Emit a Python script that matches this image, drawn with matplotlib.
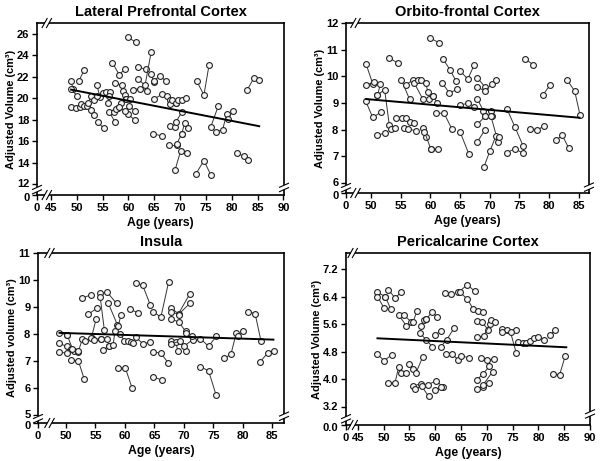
import matplotlib
matplotlib.use("Agg")
import matplotlib.pyplot as plt
from matplotlib.lines import Line2D
from matplotlib.patches import Rectangle
from matplotlib.transforms import ScaledTranslation

plt.rcParams['font.family'] = ['Liberation Sans', 'DejaVu Sans']
plt.rcParams['font.weight'] = 'bold'

# ---------------- data: Lateral Prefrontal Cortex ----------------
lpfc_age = [[48.8, 49.3], [48.8, 50.1], [50.4, 51.4], [48.8, 49.9], [50.6, 50.9, 51.4],
            [51.9, 52.2, 52.8], [52.8, 53.3], [54.1, 55.2], [53.9, 54.5], [53.3, 54.0],
            [55.1, 55.6, 56.4], [56.0, 56.3], [56.3, 57.4], [56.9, 58.2, 59.3], [57.4, 58.7],
            [58.9, 59.3, 59.6], [57.2, 58.0], [57.6, 58.5], [59.6, 60.3], [59.9, 61.2],
            [60.2, 61.2], [58.2, 59.3], [59.9, 61.4], [60.9, 62.2, 63.6], [61.8, 63.3],
            [61.8, 63.2, 64.4], [64.4, 64.9], [64.9, 66.1, 67.2], [64.9, 66.4, 67.5],
            [64.8, 66.4], [68.0, 69.2], [68.0, 68.5], [69.2, 69.6], [70.3, 71.1], [68.0, 69.0],
            [69.2, 70.3], [70.3, 70.9, 71.6], [67.9, 69.3], [69.3, 70.3], [69.0, 70.1, 71.4],
            [73.1, 74.6, 75.9], [73.2, 74.6, 75.6], [75.9, 77.4], [76.9, 78.2, 79.0],
            [79.3, 80.2], [81.0, 82.3, 83.2], [83.0, 84.3, 85.3]]
lpfc_vol = [[21.65, 20.9], [20.9, 20.2], [21.6, 22.6], [19.2, 19.1], [19.2, 19.5, 19.3],
            [19.3, 19.6, 20.2], [18.9, 18.45], [17.8, 17.2], [21.2, 20.1], [19.85, 20.2],
            [20.5, 20.6, 20.6], [19.6, 20.2], [18.7, 17.8], [23.3, 22.2, 22.7], [21.4, 21.2],
            [20.7, 20.3, 19.9], [18.7, 19.1], [19.0, 19.6], [19.9, 19.9], [18.5, 18.0],
            [19.3, 18.8], [19.2, 18.8], [25.7, 25.2], [20.8, 20.9, 20.7], [22.9, 22.7],
            [21.8, 21.2, 24.3], [22.3, 21.5], [21.6, 22.1, 21.6], [19.9, 20.35, 20.25],
            [16.7, 16.5], [19.85, 19.6], [19.5, 19.8], [19.6, 19.85], [19.85, 20.05], [17.4, 17.35],
            [17.8, 18.7], [16.7, 17.7, 17.2], [15.65, 15.65], [15.7, 16.7], [13.3, 15.1, 14.9],
            [13.0, 14.2, 12.9], [21.6, 20.3, 23.1], [17.3, 19.3], [16.9, 17.05, 18.5],
            [18.05, 18.85], [14.9, 14.6, 14.3], [20.8, 21.9, 21.7]]
lpfc_fit_x = [48.9, 85.3]
lpfc_fit_y = [20.8, 17.4]

# ---------------- data: Orbito-frontal Cortex ----------------
ofc_age = [[49.2, 50.3], [49.2, 50.5], [51.1, 52.3, 53.1], [51.1, 51.6], [49.1, 50.3, 51.7],
           [53.0, 54.5], [51.1, 52.3], [53.4, 54.1], [54.2, 55.3], [55.9, 56.5, 57.3],
           [58.7, 59.3], [59.0, 60.1], [60.1, 61.3], [55.6, 56.2, 57.6], [55.1, 56.5],
           [55.9, 57.0], [57.3, 58.7], [58.0, 58.4], [59.2, 59.6], [59.8, 60.4], [60.4, 61.2],
           [60.9, 62.3, 63.6], [59.9, 61.5], [62.1, 63.3, 64.3], [65.0, 66.3, 67.4],
           [62.0, 63.2, 64.5], [65.0, 66.5], [67.9, 69.2], [67.9, 69.2, 70.4, 71.0],
           [65.0, 66.4, 67.4], [67.9, 68.9, 70.2], [69.2, 70.3], [67.9, 69.2], [67.9, 69.2],
           [70.2, 71.4], [69.0, 70.0, 71.0, 71.6], [72.9, 74.2, 75.6], [72.9, 74.2, 75.6],
           [76.8, 78.0, 79.1], [75.9, 77.3], [78.9, 80.2], [81.1, 82.2, 83.3], [83.0, 84.3, 85.2]]
ofc_vol = [[10.45, 9.72], [9.68, 9.78], [9.31, 9.5, 8.16], [9.31, 9.70], [9.08, 8.46, 8.66],
           [10.7, 10.5], [7.79, 7.88], [8.04, 8.07], [8.45, 8.45], [8.45, 8.28, 8.24],
           [8.06, 7.72], [7.92, 7.27], [7.27, 7.27], [8.07, 8.04, 7.95], [9.88, 9.14],
           [9.69, 9.85], [9.75, 9.16], [9.85, 9.85], [9.75, 9.41], [9.16, 9.25], [9.25, 9.02],
           [8.62, 8.62, 8.04], [11.45, 11.25], [10.66, 10.25, 9.83], [10.2, 9.9, 10.44],
           [9.75, 9.38, 9.51], [7.92, 7.08], [9.95, 9.6], [9.6, 9.45, 9.73, 9.85],
           [8.92, 9.0, 8.87], [9.16, 8.72, 8.72], [8.5, 8.5], [8.2, 8.5], [7.54, 8.0],
           [8.5, 7.54], [6.6, 7.19, 7.75, 7.72], [8.78, 8.12, 7.4], [7.14, 7.29, 7.12],
           [8.04, 8.0, 8.13], [10.66, 10.44], [9.29, 9.69], [7.6, 7.79, 7.31], [9.88, 9.44, 8.54]]
ofc_fit_x = [49.2, 85.1]
ofc_fit_y = [9.15, 8.45]

# ---------------- data: Insula ----------------
ins_age = [[48.8, 50.1], [48.8, 50.1, 50.8], [50.2, 51.3], [51.0, 52.1], [48.8, 50.1],
           [50.8, 52.1, 53.1], [52.1, 52.8], [53.2, 54.4], [52.8, 54.2], [53.8, 55.2],
           [54.3, 55.1], [54.8, 55.9], [55.8, 57.0, 58.6], [55.8, 56.5], [57.2, 58.7],
           [56.2, 57.3], [55.9, 56.9], [57.3, 58.0, 58.3], [58.9, 59.3], [59.2, 59.9, 60.5],
           [61.0, 61.4], [58.9, 60.1, 61.2], [60.9, 62.2], [61.8, 63.0, 64.3], [61.8, 63.1, 64.3],
           [64.8, 66.1, 67.4], [64.8, 66.1, 67.3], [64.8, 66.3], [67.9, 69.1, 71.0],
           [67.9, 69.1, 71.0], [67.9, 69.1, 70.3], [67.9, 68.6, 69.0], [67.9, 69.4, 70.4],
           [70.0, 71.5], [70.4, 71.4], [72.8, 74.2, 75.5], [72.8, 74.2, 75.5],
           [76.9, 78.0, 78.9], [79.2, 80.1], [80.9, 82.1, 83.1], [82.9, 84.2, 85.3]]
ins_vol = [[8.04, 7.97], [7.66, 7.54, 7.46], [7.95, 7.35], [7.45, 7.33], [7.33, 7.29],
           [7.04, 7.0, 6.33], [7.35, 7.83], [7.73, 7.85], [9.33, 9.45], [8.73, 8.95],
           [7.85, 8.54], [7.79, 7.83], [9.5, 9.54, 9.13], [9.38, 8.16], [9.13, 8.35],
           [7.41, 7.54], [7.83, 7.83], [7.54, 7.58, 8.1], [8.29, 8.7], [8.0, 7.75, 7.75],
           [7.7, 7.66], [6.75, 6.72, 6.01], [8.91, 8.79], [9.88, 9.81, 9.08], [7.88, 7.63, 7.7],
           [8.83, 8.62, 9.91], [7.33, 7.29, 6.94], [6.41, 6.29], [8.95, 8.75, 9.48],
           [8.83, 8.72, 9.13], [8.54, 8.45, 8.1], [7.75, 7.7, 7.38], [7.62, 7.75, 7.38],
           [7.54, 7.79], [8.04, 7.91], [7.83, 7.54, 7.91], [6.79, 6.63, 5.72],
           [7.1, 7.25, 8.04], [7.91, 8.1], [8.83, 8.75, 7.73], [6.95, 7.29, 7.35]]
ins_fit_x = [48.9, 85.2]
ins_fit_y = [8.04, 7.79]

# ---------------- data: Pericalcarine Cortex ----------------
peri_age = [[48.8, 50.3], [48.8, 50.1], [50.3, 51.4], [50.9, 52.2, 53.4], [52.9, 54.4],
            [53.9, 55.3], [55.7, 56.5], [57.3, 57.8, 58.3], [58.3, 59.3, 60.4],
            [57.0, 58.3, 59.4], [59.9, 61.2], [61.1, 62.2, 63.7], [48.8, 50.1, 51.6],
            [50.9, 52.2, 52.9], [53.3, 54.4], [55.0, 55.7], [56.3, 57.6], [55.7, 57.2],
            [56.0, 57.4, 58.7], [58.6, 60.2, 61.5], [59.9, 61.2], [61.9, 63.0],
            [64.5, 66.2, 67.7], [64.8, 66.2, 67.4], [68.2, 69.3], [68.0, 69.1, 70.3],
            [68.0, 69.4, 70.6], [70.9, 71.6], [62.0, 63.3, 64.5], [65.0, 66.5],
            [68.8, 70.1, 71.4], [68.0, 69.2, 70.5], [68.0, 69.2, 70.5], [69.3, 71.1],
            [72.9, 74.0, 75.7], [72.9, 74.6, 75.7], [76.0, 77.0], [77.6, 78.3],
            [79.1, 80.0, 81.1], [82.2, 83.3], [82.8, 84.1, 85.2]]
peri_vol = [[6.52, 6.40], [6.40, 6.06], [6.40, 6.03], [6.60, 6.36, 6.52], [5.87, 5.55],
            [5.87, 5.67], [5.67, 5.99], [5.55, 5.71, 5.75], [5.75, 5.94, 5.82],
            [5.34, 5.14, 4.95], [5.29, 5.41], [4.95, 5.14, 5.50], [4.73, 4.54, 4.72],
            [3.90, 3.90, 4.35], [4.20, 4.20], [4.46, 4.30], [4.20, 4.66], [3.80, 3.88],
            [3.73, 3.80, 3.51], [3.85, 3.96, 3.78], [3.69, 3.78], [6.50, 6.47],
            [6.52, 6.74, 6.55], [6.52, 6.33, 6.03], [5.97, 5.94], [5.68, 5.65, 5.43],
            [5.22, 5.26, 5.60], [5.71, 5.65], [4.75, 4.73, 4.56], [4.68, 4.63],
            [4.61, 4.56, 4.58], [3.98, 4.15, 4.38], [3.73, 3.78, 3.90], [3.85, 4.22],
            [5.45, 5.43, 5.43], [5.36, 5.36, 4.77], [5.09, 5.06], [5.06, 5.12],
            [5.21, 5.22, 5.14], [5.29, 5.43], [4.17, 4.13, 4.68]]
peri_fit_x = [48.8, 85.4]
peri_fit_y = [5.19, 4.93]

titles = ["Lateral Prefrontal Cortex", "Orbito-frontal Cortex", "Insula", "Pericalcarine Cortex"]
ylabels = ["Adjusted Volume (cm³)", "Adjusted Volume (cm³)", "Adjusted volume (cm³)",
           "Adjusted Volume (cm³)"]

W, H = 600, 461
fig = plt.figure(figsize=(W / 100, H / 100), dpi=100)


def px_axes(l, r, t, b):
    return [l / W, (H - b) / H, (r - l) / W, (b - t) / H]


panels = [
    dict(rect=px_axes(37, 284, 23, 195), age=lpfc_age, vol=lpfc_vol, fx=lpfc_fit_x, fy=lpfc_fit_y,
         xlim=(42.3, 90.1), xt=[45, 50, 55, 60, 65, 70, 75, 80, 85, 90],
         ylim=(11.0, 27.0), yt=[12, 14, 16, 18, 20, 22, 24, 26], yfmt="{:.0f}", yzero="0",
         xbrk=44.2, ybrk=11.5, rbrk=11.7),
    dict(rect=px_axes(346, 589, 23, 193), age=ofc_age, vol=ofc_vol, fx=ofc_fit_x, fy=ofc_fit_y,
         xlim=(45.8, 86.7), xt=[50, 55, 60, 65, 70, 75, 80, 85],
         ylim=(5.63, 12.0), yt=[6, 7, 8, 9, 10, 11, 12], yfmt="{:.0f}", yzero="0",
         xbrk=47.4, ybrk=5.83, rbrk=5.85),
    dict(rect=px_axes(38, 284, 253, 423), age=ins_age, vol=ins_vol, fx=ins_fit_x, fy=ins_fit_y,
         xlim=(45.25, 87.0), xt=[50, 55, 60, 65, 70, 75, 80, 85],
         ylim=(4.7, 11.0), yt=[5, 6, 7, 8, 9, 10, 11], yfmt="{:.0f}", yzero="0",
         xbrk=47.2, ybrk=4.86, rbrk=4.95),
    dict(rect=px_axes(346, 590, 253, 425), age=peri_age, vol=peri_vol, fx=peri_fit_x, fy=peri_fit_y,
         xlim=(42.7, 90.0), xt=[45, 50, 55, 60, 65, 70, 75, 80, 85, 90],
         ylim=(2.68, 7.66), yt=[3.2, 4.0, 4.8, 5.6, 6.4, 7.2], yfmt="{:.1f}", yzero="0.0",
         xbrk=44.0, ybrk=2.86, rbrk=3.0),
]


def add_break(ax, kind, pos):
    bb = ax.get_position()
    wpx = bb.width * W
    hpx = bb.height * H
    fx, fy = 1.0 / wpx, 1.0 / hpx
    x0, x1 = ax.get_xlim()
    y0, y1 = ax.get_ylim()
    kw = dict(transform=ax.transAxes, clip_on=False)
    if kind in ("bottom", "top"):
        xa = (pos - x0) / (x1 - x0)
        ya = 0.0 if kind == "bottom" else 1.0
        ax.add_patch(Rectangle((xa - 2.2 * fx, ya - 3 * fy), 4.4 * fx, 6 * fy,
                               facecolor="white", edgecolor="none", zorder=5, **kw))
        for s in (-2.2, 2.2):
            ax.add_line(Line2D([xa + (s - 2.5) * fx, xa + (s + 2.5) * fx],
                               [ya - 4.5 * fy, ya + 4.5 * fy], color="black", lw=0.8,
                               zorder=6, **kw))
    else:
        xa = 0.0 if kind == "left" else 1.0
        ya = (pos - y0) / (y1 - y0)
        ax.add_patch(Rectangle((xa - 3 * fx, ya - 2.2 * fy), 6 * fx, 4.4 * fy,
                               facecolor="white", edgecolor="none", zorder=5, **kw))
        for s in (-2.2, 2.2):
            ax.add_line(Line2D([xa - 4.5 * fx, xa + 4.5 * fx],
                               [ya + (s - 2.0) * fy, ya + (s + 2.0) * fy], color="black",
                               lw=0.8, zorder=6, **kw))


for p, title, ylab in zip(panels, titles, ylabels):
    ax = fig.add_axes(p["rect"])
    for a, v in zip(p["age"], p["vol"]):
        ax.plot(a, v, color="#333333", lw=0.7, marker="o", ms=4.2, mfc="#f4f4f4",
                mec="#222222", mew=0.8, zorder=3)
    ax.plot(p["fx"], p["fy"], color="black", lw=1.4, zorder=4)
    ax.set_xlim(*p["xlim"])
    ax.set_ylim(*p["ylim"])
    xt = [p["xlim"][0]] + p["xt"]
    ax.set_xticks(xt)
    ax.set_xticklabels(["0"] + [str(t) for t in p["xt"]])
    yt = [p["ylim"][0]] + p["yt"]
    ax.set_yticks(yt)
    ax.set_yticklabels([p["yzero"]] + [p["yfmt"].format(t) for t in p["yt"]])
    ax.tick_params(direction="out", length=3.5, width=1.0, labelsize=8, pad=2)
    for lab in ax.get_xticklabels() + ax.get_yticklabels():
        lab.set_fontweight("bold")
    # nudge the break-region "0" label and its neighbour apart slightly
    ylabs = ax.get_yticklabels()
    ylabs[0].set_transform(ylabs[0].get_transform() +
                           ScaledTranslation(0, -1.5 / 72, fig.dpi_scale_trans))
    ylabs[1].set_transform(ylabs[1].get_transform() +
                           ScaledTranslation(0, 1.0 / 72, fig.dpi_scale_trans))
    for sp in ax.spines.values():
        sp.set_linewidth(1.2)
    ax.set_title(title, fontsize=10.5, fontweight="bold", pad=5)
    ax.set_xlabel("Age (years)", fontsize=8.8, fontweight="bold", labelpad=3)
    ax.set_ylabel(ylab, fontsize=7.9, fontweight="bold", labelpad=0.5)
    add_break(ax, "bottom", p["xbrk"])
    add_break(ax, "top", p["xbrk"])
    add_break(ax, "left", p["ybrk"])
    add_break(ax, "right", p["rbrk"])

fig.savefig("out.png", dpi=100)
